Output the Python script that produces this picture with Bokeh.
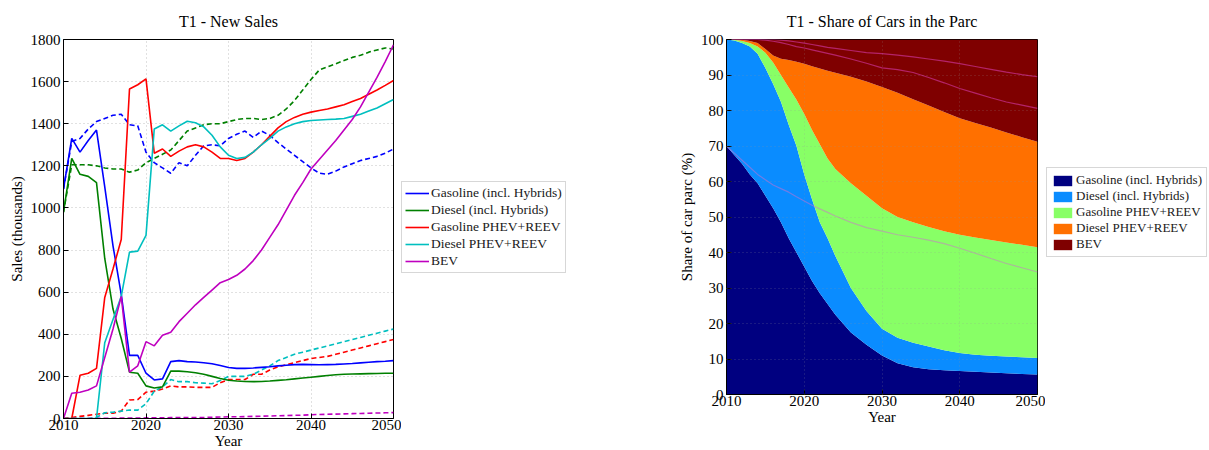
from bokeh.plotting import figure
from bokeh.layouts import row
from bokeh.models import ColumnDataSource, Legend, LegendItem, Range1d, FixedTicker
from bokeh.embed import file_html
from bokeh.resources import INLINE

FONT = "Liberation Serif"
NAN = float("nan")

# ---------------- Left chart: new sales (thousands) ----------------
years = list(range(2010, 2051))

gas_solid = [1090, 1330, 1265, 1320, 1370, 1100, 820, 590, 300, 300,
             215, 183, 188, 270, 275, 270, 268, 265, 260, 252,
             242, 238, 238, 240, 243, 246, 250, 253, 256, 257,
             256, 255, 256, 257, 259, 261, 264, 267, 270, 272, 275]
diesel_solid = [980, 1235, 1160, 1150, 1120, 760, 520, 380, 220, 215,
                155, 145, 150, 225, 225, 222, 217, 210, 200, 190,
                182, 178, 176, 175, 176, 178, 181, 184, 188, 192,
                196, 200, 204, 208, 210, 211, 212, 213, 214, 215, 215]
gas_phev_solid = [0, 0, 205, 215, 238, 575, 710, 850, 1565, 1585,
                  1613, 1260, 1280, 1245, 1270, 1290, 1300, 1290, 1265, 1235,
                  1235, 1225, 1235, 1265, 1300, 1340, 1380, 1410, 1430, 1445,
                  1455, 1463, 1470, 1480, 1490, 1505, 1520, 1540, 1560, 1582, 1605]
diesel_phev_solid = [0, 0, 0, 0, 0, 360, 470, 580, 790, 795,
                     870, 1375, 1395, 1365, 1390, 1412, 1405, 1385, 1345, 1290,
                     1250, 1235, 1240, 1265, 1300, 1330, 1365, 1385, 1400, 1410,
                     1415, 1418, 1420, 1422, 1425, 1435, 1445, 1460, 1475, 1495, 1515]
bev_solid = [0, 120, 125, 135, 155, 290, 425, 580, 220, 250,
             365, 345, 395, 410, 460, 500, 540, 575, 610, 645,
             660, 680, 710, 750, 800, 860, 920, 990, 1060, 1120,
             1185, 1230, 1275, 1320, 1370, 1420, 1480, 1550, 1620, 1695, 1775]

gas_dashed = [1090, 1315, 1330, 1375, 1410, 1425, 1440, 1445, 1395, 1390,
              1265, 1215, 1190, 1165, 1215, 1200, 1250, 1295, 1300, 1295,
              1330, 1350, 1365, 1335, 1365, 1345, 1310, 1280, 1250, 1220,
              1190, 1165, 1160, 1175, 1195, 1210, 1225, 1235, 1245, 1260, 1280]
diesel_dashed = [980, 1205, 1205, 1205, 1200, 1190, 1185, 1185, 1170, 1180,
                 1215, 1235, 1255, 1275, 1320, 1365, 1380, 1395, 1400, 1400,
                 1410, 1420, 1425, 1425, 1420, 1425, 1440, 1470, 1510, 1560,
                 1610, 1655, 1670, 1685, 1700, 1715, 1725, 1740, 1750, 1760, 1755]
gas_phev_dashed = [0, 5, 10, 15, 20, 25, 25, 35, 88, 90,
                   125, 130, 140, 155, 150, 150, 148, 148, 148, 170,
                   185, 185, 185, 210, 210, 230, 245, 255, 265, 275,
                   285, 290, 295, 305, 315, 325, 335, 345, 355, 365, 375]
diesel_phev_dashed = [0, 0, 0, 0, 5, 27, 30, 35, 40, 40,
                      70, 130, 150, 185, 175, 175, 170, 168, 165, 180,
                      200, 200, 200, 210, 230, 250, 275, 290, 305, 315,
                      325, 335, 345, 355, 365, 375, 385, 395, 405, 415, 425]
bev_dashed = [0, 0, 0, 0, 1, 1, 1, 2, 2, 2,
              3, 3, 3, 4, 4, 5, 5, 5, 6, 7,
              8, 8, 9, 10, 11, 12, 13, 14, 15, 16,
              18, 19, 20, 21, 22, 23, 24, 25, 26, 27, 28]

sales_labels = ["Gasoline (incl. Hybrids)", "Diesel (incl. Hybrids)",
                "Gasoline PHEV+REEV", "Diesel PHEV+REEV", "BEV"]
sales_colors = ["#0000ff", "#008000", "#ff0000", "#00bfbf", "#bf00bf"]
sales_x_ticks = [2010, 2020, 2030, 2040, 2050]
sales_y_ticks = [0, 200, 400, 600, 800, 1000, 1200, 1400, 1600, 1800]

# ---------------- Right chart: share of parc (%) ----------------
parc_years = [2010, 2011, 2012, 2013, 2014, 2015, 2016, 2017, 2018, 2019,
              2020, 2021, 2022, 2023, 2024, 2026, 2028, 2030, 2032, 2034,
              2036, 2038, 2040, 2042, 2044, 2046, 2048, 2050]
share_gas = [70, 67.5, 65, 62, 59.5, 56, 52.5, 48.5, 44, 40,
             36, 32, 28.5, 25.5, 22.5, 17.5, 14, 11, 8.8, 7.7,
             7.1, 6.8, 6.6, 6.4, 6.2, 6.0, 5.8, 5.6]
share_diesel = [30, 32.2, 34, 36, 36.5, 36, 35, 34, 32, 30,
                26, 23, 20, 18.5, 16.5, 12.5, 9.5, 7.5, 7.2, 6.9,
                6.4, 5.7, 5.1, 4.8, 4.7, 4.7, 4.7, 4.7]
share_gas_phev = [0, 0.2, 0.6, 1, 2, 4.3, 6, 7.5, 10.5, 13,
                  17, 19.5, 22, 22.5, 24.5, 29.5, 32.5, 34, 34, 33.9,
                  33.7, 33.5, 33.3, 33, 32.6, 32.1, 31.7, 31.2]
share_diesel_phev = [0, 0.1, 0.3, 0.6, 1, 1, 2, 4.6, 7.7, 10.7,
                     14.2, 18, 21.3, 24.7, 27.1, 30, 32.2, 34.1, 35, 34.7,
                     34.2, 33.6, 32.8, 32.3, 31.7, 31, 30.3, 29.7]
share_bev = [0, 0, 0.1, 0.4, 1, 2.7, 4.5, 5.4, 5.8, 6.3,
             6.8, 7.5, 8.2, 8.8, 9.4, 10.5, 11.8, 13.4, 15, 16.8,
             18.6, 20.4, 22.2, 23.5, 24.8, 26.2, 27.5, 28.8]
# overlay lines (alternative scenario boundaries)
alt_upper = [100, 100, 100, 100, 100, 100, 100, 99.8, 99.6, 99.3,
             99, 98.6, 98.2, 97.8, 97.5, 96.9, 96.3, 96, 95.6, 95.1,
             94.5, 93.9, 93.2, 92.4, 91.6, 90.8, 90.1, 89.5]
alt_lower = [100, 100, 100, 100, 100, 99.8, 99.5, 99.1, 98.6, 98,
             97.6, 97.1, 96.6, 96.1, 95.6, 94.5, 93.3, 92, 91.5, 90.7,
             89.3, 87.8, 86.2, 84.9, 83.6, 82.4, 81.5, 80.6]
alt_gas = [70, 68, 66, 64, 62, 60.5, 59, 58, 57, 55.7,
           54.5, 53.3, 52.3, 51.3, 50.3, 48.5, 47, 46, 45, 44.3,
           43.5, 42.5, 41.2, 39.8, 38.3, 36.9, 35.7, 34.5]

parc_labels = ["Gasoline (incl. Hybrids)", "Diesel (incl. Hybrids)",
               "Gasoline PHEV+REEV", "Diesel PHEV+REEV", "BEV"]
parc_colors = ["#000080", "#0a8cff", "#88ff66", "#ff7000", "#7f0000"]
parc_x_ticks = [2010, 2020, 2030, 2040, 2050]
parc_y_ticks = [0, 10, 20, 30, 40, 50, 60, 70, 80, 90, 100]


def style(p, xt, yt, grid_alpha):
    p.title.text_font = FONT
    p.title.text_font_size = "16px"
    p.title.text_font_style = "normal"
    p.title.text_color = "black"
    p.title.align = "center"
    p.title.standoff = 19
    p.outline_line_color = "black"
    p.outline_line_alpha = 1
    p.xaxis.ticker = FixedTicker(ticks=xt)
    p.yaxis.ticker = FixedTicker(ticks=yt)
    for ax in p.axis:
        ax.major_tick_in = 5
        ax.major_tick_out = 0
        ax.minor_tick_line_color = None
        ax.axis_line_color = "black"
        ax.major_tick_line_color = "black"
        ax.major_label_text_font = FONT
        ax.major_label_text_font_size = "15px"
        ax.major_label_text_color = "black"
        ax.axis_label_text_font = FONT
        ax.axis_label_text_font_size = "15px"
        ax.axis_label_text_font_style = "normal"
        ax.axis_label_text_color = "black"
    p.xaxis.major_label_standoff = 1
    p.xaxis.axis_label_standoff = 0
    p.yaxis.major_label_standoff = 3
    p.yaxis.axis_label_standoff = 3
    for g in (p.xgrid, p.ygrid):
        g.grid_line_color = "#999999"
        g.grid_line_alpha = grid_alpha
        g.grid_line_dash = "1 3"
    p.xgrid.ticker = FixedTicker(ticks=xt)
    p.ygrid.ticker = FixedTicker(ticks=yt)


def legend_figure(width):
    f = figure(width=width, height=450, x_range=Range1d(0, 1), y_range=Range1d(0, 1),
               x_axis_type=None, y_axis_type=None, output_backend="svg",
               toolbar_location=None, min_border_left=0, min_border_right=0,
               min_border_top=0, min_border_bottom=0)
    f.outline_line_color = None
    f.xgrid.visible = False
    f.ygrid.visible = False
    return f


def legend_style(leg, loc):
    leg.label_text_font = FONT
    leg.label_text_font_size = "13.5px"
    leg.label_text_color = "#202020"
    leg.label_height = 15
    leg.glyph_height = 14
    leg.glyph_width = 24
    leg.spacing = 1
    leg.padding = 3
    leg.margin = 0
    leg.label_standoff = 2
    leg.border_line_color = "#b0b0b0"
    leg.border_line_width = 1
    leg.location = loc
    leg.background_fill_color = "white"


# ---- left figure ----
p1 = figure(frame_width=330, frame_height=379, title="T1 - New Sales",
            x_range=Range1d(2010, 2050), y_range=Range1d(0, 1800),
            output_backend="svg", toolbar_location=None,
            min_border_left=63, min_border_right=8,
            min_border_top=39, min_border_bottom=32,
            x_axis_label="Year", y_axis_label="Sales (thousands)")
style(p1, sales_x_ticks, sales_y_ticks, 0.6)

solid_series = [gas_solid, diesel_solid, gas_phev_solid, diesel_phev_solid, bev_solid]
dashed_series = [gas_dashed, diesel_dashed, gas_phev_dashed, diesel_phev_dashed, bev_dashed]
for ser, col in zip(dashed_series, sales_colors):
    p1.line(years, ser, line_color=col, line_width=1.6, line_dash="5 3")
for ser, col in zip(solid_series, sales_colors):
    p1.line(years, ser, line_color=col, line_width=1.6)

# legend panel for the left chart
l1 = legend_figure(274)
items = []
for col, lab in zip(sales_colors, sales_labels):
    r = l1.line(x=[NAN], y=[NAN], line_color=col, line_width=1.6)
    items.append(LegendItem(label=lab, renderers=[r]))
leg1 = Legend(items=items)
legend_style(leg1, (0, 121))
l1.add_layout(leg1)

# ---- right figure ----
src = ColumnDataSource(dict(year=parc_years, gas=share_gas, diesel=share_diesel,
                            gphev=share_gas_phev, dphev=share_diesel_phev, bev=share_bev,
                            up=alt_upper, lo=alt_lower, ag=alt_gas))
p2 = figure(frame_width=311, frame_height=355, title="T1 - Share of Cars in the Parc",
            x_range=Range1d(2010, 2050), y_range=Range1d(0, 100),
            output_backend="svg", toolbar_location=None,
            min_border_left=46, min_border_right=8,
            min_border_top=38, min_border_bottom=56,
            x_axis_label="Year", y_axis_label="Share of car parc (%)")
style(p2, parc_x_ticks, parc_y_ticks, 0.35)
p2.xgrid.level = "overlay"
p2.ygrid.level = "overlay"
p2.varea_stack(stackers=["gas", "diesel", "gphev", "dphev", "bev"], x="year",
               color=parc_colors, source=src)
p2.line("year", "up", source=src, line_color="#e040c0", line_alpha=0.55, line_width=1.2)
p2.line("year", "lo", source=src, line_color="#e040c0", line_alpha=0.55, line_width=1.2)
p2.line("year", "ag", source=src, line_color="#d070d0", line_alpha=0.5, line_width=1.2)

# legend panel for the right chart
l2 = legend_figure(168)
items2 = []
for col, lab in zip(parc_colors, parc_labels):
    r = l2.varea(x=[NAN], y1=[NAN], y2=[NAN], fill_color=col)
    items2.append(LegendItem(label=lab, renderers=[r]))
leg2 = Legend(items=items2)
legend_style(leg2, (1, 137))
leg2.label_text_font_size = "13px"
leg2.glyph_width = 23
leg2.glyph_height = 13
leg2.label_height = 14
leg2.spacing = 0
leg2.padding = 4
l2.add_layout(leg2)

layout = row(p1, l1, p2, l2)
open("out.html", "w").write(file_html(layout, INLINE))
